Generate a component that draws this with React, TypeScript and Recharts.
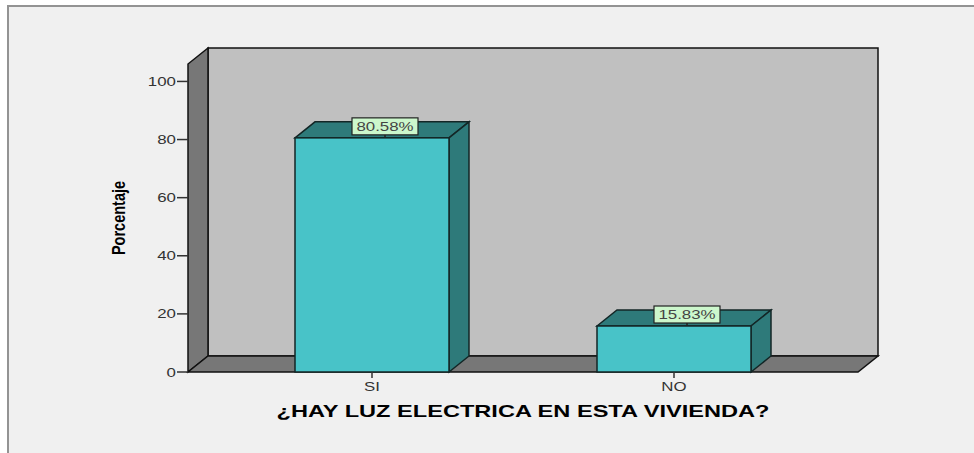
import React from 'react';
import { ComposedChart, Bar, XAxis, YAxis, ReferenceArea, LabelList } from 'recharts';

const categories = ['SI', 'NO'];
const percentages = [80.58, 15.83];
const yTicks = [0, 20, 40, 60, 80, 100];
const yDomain = [0, 106];
const xTitle = '¿HAY LUZ ELECTRICA EN ESTA VIVIENDA?';
const yTitle = 'Porcentaje';

const data = categories.map((c, i) => ({ cat: c, pct: percentages[i] }));

const DX = 20;
const DY = 16;
const SX = 1.35;
const FONT = '"Liberation Sans", Arial, sans-serif';

const WallShape = (props: any) => {
  const { x, y, width: w, height: h } = props;
  const stroke = '#111';
  return (
    <g>
      <rect x={x + DX} y={y - DY} width={w} height={h} fill="#c0c0c0" stroke={stroke} strokeWidth={1.5} />
      <polygon
        points={`${x},${y + h} ${x},${y} ${x + DX},${y - DY} ${x + DX},${y + h - DY}`}
        fill="#777777"
        stroke={stroke}
        strokeWidth={1.5}
      />
      <polygon
        points={`${x},${y + h} ${x + w},${y + h} ${x + w + DX},${y + h - DY} ${x + DX},${y + h - DY}`}
        fill="#777777"
        stroke={stroke}
        strokeWidth={1.5}
      />
    </g>
  );
};

const BarShape = (props: any) => {
  const { x, y, width: w, height: h } = props;
  const stroke = '#132626';
  return (
    <g>
      <polygon
        points={`${x},${y} ${x + DX},${y - DY} ${x + w + DX},${y - DY} ${x + w},${y}`}
        fill="#2e7a7a"
        stroke={stroke}
        strokeWidth={1.5}
      />
      <polygon
        points={`${x + w},${y} ${x + w + DX},${y - DY} ${x + w + DX},${y + h - DY} ${x + w},${y + h}`}
        fill="#2e7a7a"
        stroke={stroke}
        strokeWidth={1.5}
      />
      <rect x={x} y={y} width={w} height={h} fill="#48c3c8" stroke={stroke} strokeWidth={1.5} />
    </g>
  );
};

const ValueLabel = (props: any) => {
  const { x, y, width: w, value } = props;
  const cx = x + w / 2 + 13;
  const bw = 66;
  const bh = 17;
  const top = y - 20;
  return (
    <g>
      <line x1={cx} y1={top + bh} x2={cx} y2={y} stroke="#222" strokeWidth={1.5} />
      <rect x={cx - bw / 2} y={top} width={bw} height={bh} fill="#ccf7cc" stroke="#222" strokeWidth={1.2} />
      <text
        transform={`translate(${cx},${top + 13}) scale(${SX},1)`}
        textAnchor="middle"
        fontFamily={FONT}
        fontSize={12.5}
        fill="#444"
      >
        {`${Number(value).toFixed(2)}%`}
      </text>
    </g>
  );
};

const YTick = (props: any) => {
  const { x, y, payload } = props;
  return (
    <text
      transform={`translate(${x},${y + 4.5}) scale(${SX},1)`}
      textAnchor="end"
      fontFamily={FONT}
      fontSize={12.5}
      fill="#333"
    >
      {payload.value}
    </text>
  );
};

const XTick = (props: any) => {
  const { x, payload } = props;
  return (
    <text
      transform={`translate(${x},391) scale(${SX},1)`}
      textAnchor="middle"
      fontFamily={FONT}
      fontSize={12.5}
      fill="#333"
    >
      {payload.value}
    </text>
  );
};

const XTitle = (props: any) => {
  const { viewBox } = props;
  const cx = viewBox.x + viewBox.width / 2;
  return (
    <text
      transform={`translate(${cx},${viewBox.y + 45}) scale(1.43,1)`}
      textAnchor="middle"
      fontFamily={FONT}
      fontWeight="bold"
      fontSize={16.5}
      fill="#000"
    >
      {xTitle}
    </text>
  );
};

const YTitle = (props: any) => {
  const { viewBox } = props;
  const cy = viewBox.y + viewBox.height / 2;
  return (
    <text
      transform={`translate(125,${cy}) scale(1.25,1) rotate(-90)`}
      textAnchor="middle"
      fontFamily={FONT}
      fontWeight="bold"
      fontSize={14.5}
      fill="#000"
    >
      {yTitle}
    </text>
  );
};

export default function App() {
  return (
    <div style={{ position: 'absolute', left: 0, top: 0, width: 974, height: 453, overflow: 'hidden', background: '#fff' }}>
      <div style={{ position: 'absolute', left: 7, top: 5, width: 967, height: 448, background: '#f0f0f0' }} />
      <div style={{ position: 'absolute', left: 7, top: 5, width: 967, height: 2, background: '#939393' }} />
      <div style={{ position: 'absolute', left: 7, top: 5, width: 2, height: 448, background: '#939393' }} />
      <div style={{ position: 'absolute', left: 0, top: 0 }}>
        <ComposedChart width={974} height={453} data={data} margin={{ top: 64, right: 116, bottom: 51, left: 100 }}>
          <XAxis
            dataKey="cat"
            height={30}
            padding={{ left: 33, right: 33 }}
            axisLine={false}
            tickSize={6}
            tickLine={{ stroke: '#333', strokeWidth: 1.5 }}
            tick={<XTick />}
            interval={0}
            label={{ content: <XTitle /> }}
          />
          <XAxis xAxisId="wall" type="number" domain={[0, 1]} hide />
          <YAxis
            width={88}
            domain={yDomain}
            ticks={yTicks}
            axisLine={false}
            tickSize={11}
            tickMargin={1}
            tickLine={{ stroke: '#333', strokeWidth: 1.5 }}
            tick={<YTick />}
            label={{ content: <YTitle /> }}
          />
          <ReferenceArea
            xAxisId="wall"
            x1={0}
            x2={1}
            y1={yDomain[0]}
            y2={yDomain[1]}
            ifOverflow="visible"
            shape={<WallShape />}
          />
          <Bar dataKey="pct" barSize={154} shape={<BarShape />} isAnimationActive={false}>
            <LabelList dataKey="pct" content={<ValueLabel />} />
          </Bar>
        </ComposedChart>
      </div>
    </div>
  );
}
